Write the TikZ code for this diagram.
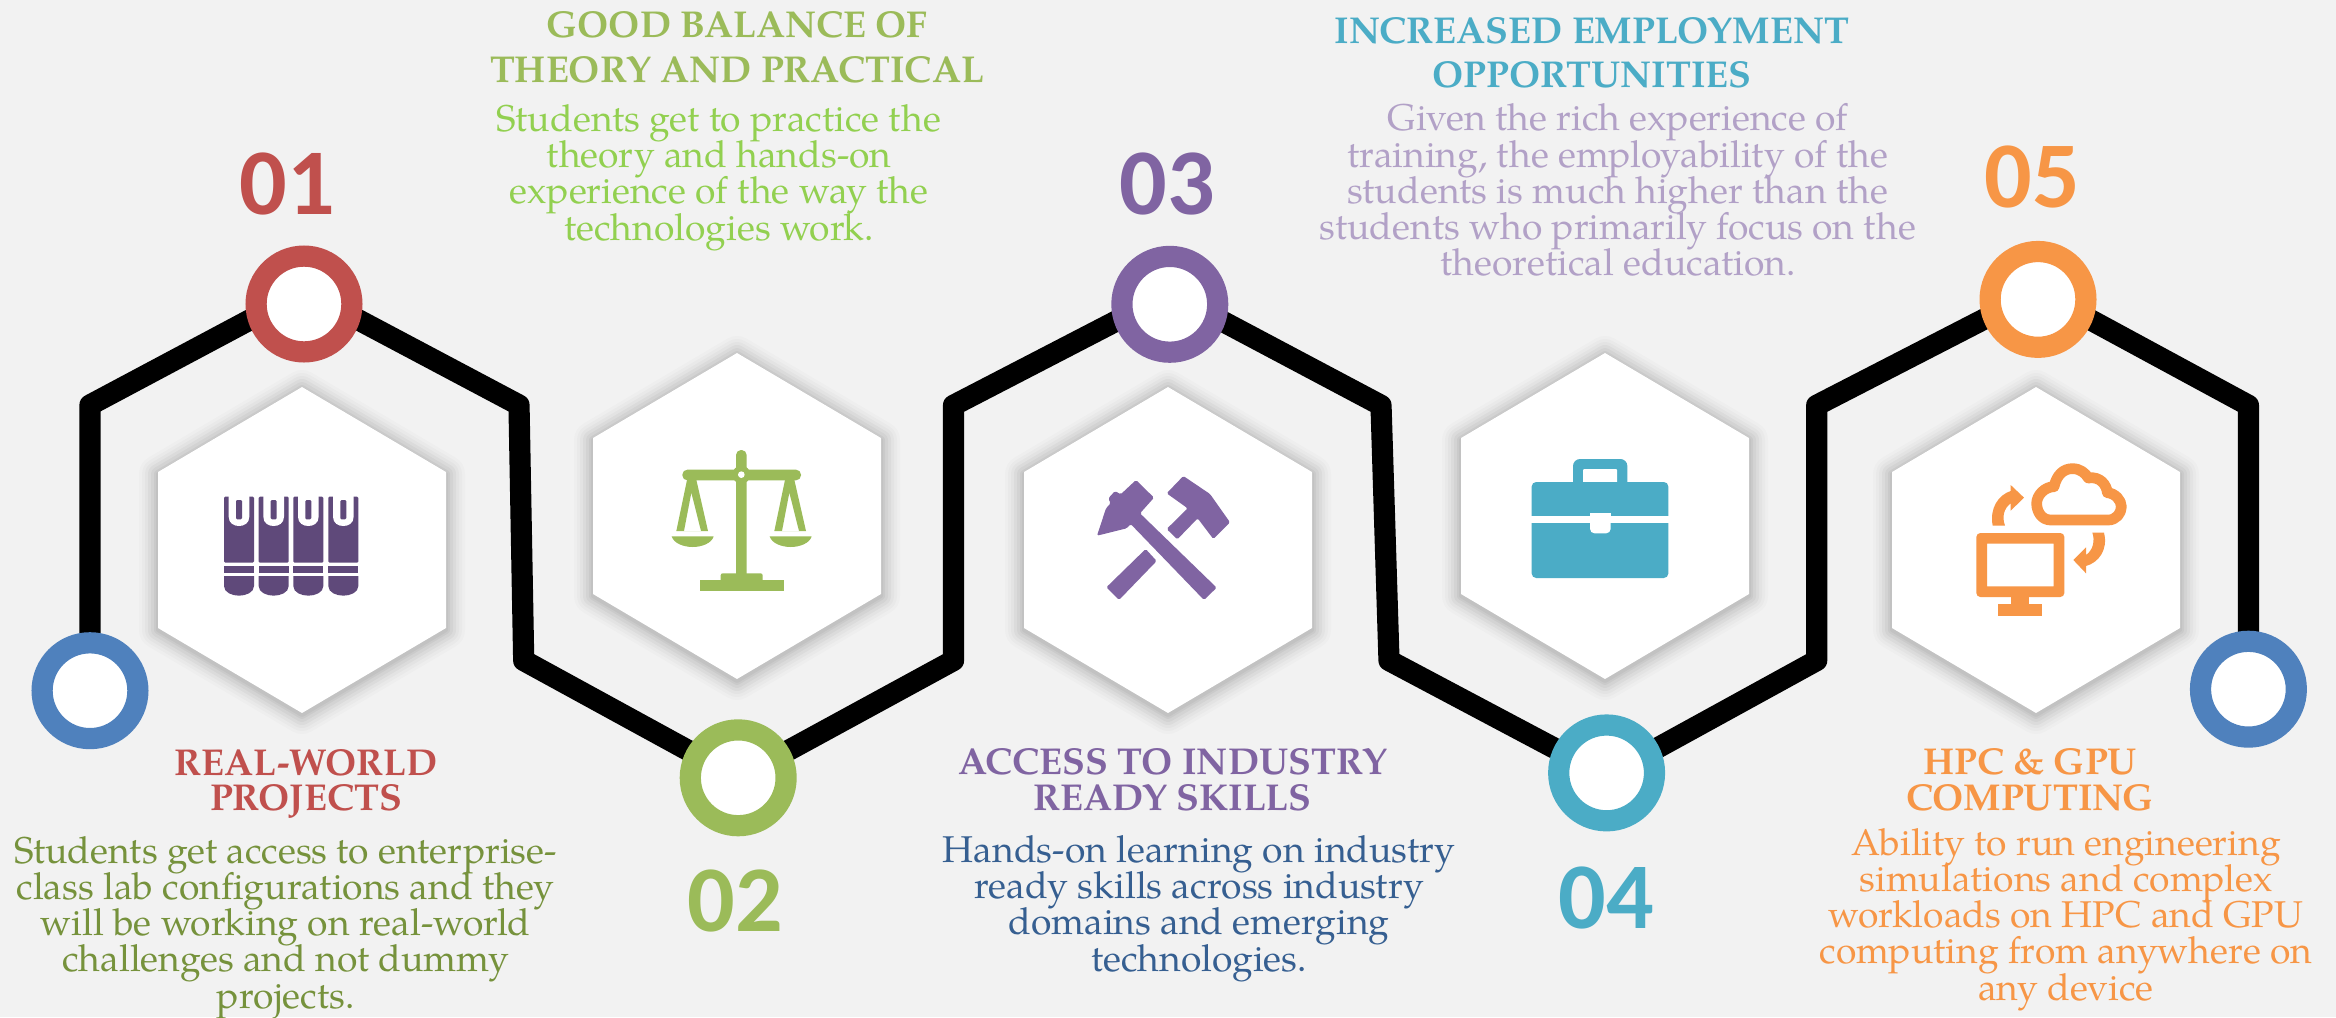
\documentclass[tikz,border=0pt]{standalone}
\usepackage{fontspec}
\setmainfont{TeX Gyre Pagella}
\newfontfamily\numfont{Carlito}
\definecolor{bgc}{HTML}{F2F2F2}
\definecolor{cred}{HTML}{C0504D}
\definecolor{cgreen}{HTML}{9BBB59}
\definecolor{cpurple}{HTML}{8064A2}
\definecolor{cteal}{HTML}{4BACC6}
\definecolor{corange}{HTML}{F79646}
\definecolor{cblue}{HTML}{4F81BD}
\definecolor{cbook}{HTML}{5F497A}
\definecolor{tgreenD}{HTML}{76923C}
\definecolor{tgreenL}{HTML}{92D050}
\definecolor{tblue}{HTML}{365F91}
\definecolor{tlilac}{HTML}{B2A1C7}
\pgfdeclarelayer{back}
\pgfsetlayers{back,main}
\newcommand{\hexshape}[2]{%
  \foreach \wd/\op in {38/.014,32/.018,26/.024,20/.03,14/.036,8/.04,4/.04}{%
    \draw[black,opacity=\op,line width=\wd pt,line join=round,fill=none]
      ({#1},{#2+2}) -- ({#1+144},{#2+87}) -- ({#1+144},{#2+243}) -- ({#1},{#2+328}) -- ({#1-144},{#2+243}) -- ({#1-144},{#2+87}) -- cycle;}%
  \fill[white] ({#1},{#2}) -- ({#1+144},{#2+85}) -- ({#1+144},{#2+241}) -- ({#1},{#2+326}) -- ({#1-144},{#2+241}) -- ({#1-144},{#2+85}) -- cycle;}
\newcommand{\tightlines}{\lineskiplimit=-100pt\lineskip=0pt}
\tikzset{x=1pt,y=-1pt,
 ringnode/.style={circle,draw=#1,fill=white,line width=21.2pt,minimum size=95.8pt,inner sep=0pt,outer sep=0pt},
 connector/.style={black,line width=21.2pt,line join=round},
 bodytext/.style={align=center,anchor=base,font=\fontsize{37.25}{36.2}\selectfont\tightlines},
 headtext/.style={align=center,anchor=base,font=\fontsize{37.4}{35.5}\selectfont\bfseries\tightlines},
 headwide/.style={align=center,anchor=base,font=\fontsize{37.4}{44.5}\selectfont\bfseries\tightlines},
 numtext/.style={anchor=base,font=\fontsize{94}{94}\selectfont\bfseries\numfont}}
\begin{document}
\begin{tikzpicture}
\useasboundingbox (0,0) rectangle (2336,1017);
\begin{pgfonlayer}{back}
\fill[bgc] (0,0) rectangle (2336,1017);
\end{pgfonlayer}
% ring nodes
\node[ringnode=cblue] (ringA) at (90,690.7) {};
\node[ringnode=cred] (ring1) at (304,304) {};
\node[ringnode=cgreen] (ring2) at (738.2,777.8) {};
\node[ringnode=cpurple] (ring3) at (1169.8,304.3) {};
\node[ringnode=cteal] (ring4) at (1606.6,772.9) {};
\node[ringnode=corange] (ring5) at (2038,299.4) {};
\node[ringnode=cblue] (ringB) at (2248.4,689.2) {};
% bends
\coordinate (b1) at (90,405);
\coordinate (b2) at (519,405);
\coordinate (b3) at (523.7,660.5);
\coordinate (b4) at (953.5,660.5);
\coordinate (b5) at (953.5,405.3);
\coordinate (b6) at (1381,405.3);
\coordinate (b7) at (1389,660.5);
\coordinate (b8) at (1816.7,660.5);
\coordinate (b9) at (1816.7,405.3);
\coordinate (b10) at (2248.4,405.3);
\begin{pgfonlayer}{back}
\draw[connector] (ringA.center) -- (b1) -- ([yshift=13pt]ring1.center) -- (b2) -- (b3) -- (ring2.center) -- (b4) -- (b5) -- ([yshift=11pt]ring3.center) -- (b6) -- (b7) -- ([yshift=-3pt]ring4.center) -- (b8) -- (b9) -- ([yshift=8pt]ring5.center) -- (b10) -- (ringB.center);
\end{pgfonlayer}
% hexagons
\hexshape{302}{387}
\hexshape{737}{353}
\hexshape{1168}{387}
\hexshape{1605}{353}
\hexshape{2036}{387}
% books
\begin{scope}[shift={(130,370)},scale=1/3,cbook]
\foreach \bx in {282,386,490,595}{
\begin{scope}[shift={(\bx,0)}]
\fill[rounded corners=1.2pt] (0,578) -- (0,380) -- (90,380) -- (90,578) -- cycle;
\fill[white] (14,372) -- (14,440) .. controls (14,460) and (30,468) .. (45,468) .. controls (60,468) and (76,460) .. (76,440) -- (76,372) -- cycle;
\fill[rounded corners=1.2pt] (36,390) -- (54,390) -- (54,448) -- (36,448) -- cycle;
\fill (0,588) rectangle (90,609);
\fill (0,618) -- (90,618) -- (90,648) .. controls (90,668) and (65,677) .. (45,677) .. controls (25,677) and (0,668) .. (0,648) -- cycle;
\end{scope}}
\end{scope}
% scales
\begin{scope}[shift={(570,340)},scale=1/3,cgreen]
\fill[rounded corners=5pt] (498,330) rectangle (530,720);
\fill[rounded corners=5pt] (337,389) rectangle (693,421);
\fill (514,404) circle [radius=27];
\foreach \sx in {0,294}{
\begin{scope}[shift={(\sx,0)}]
\fill[even odd rule] (352,415) -- (319,573) -- (414,573) -- (378,415) -- cycle (364,458) -- (342,573) -- (393,573) -- cycle;
\fill (305,589) -- (431,589) .. controls (425,610) and (395,621) .. (368,621) .. controls (341,621) and (311,610) .. (305,589) -- cycle;
\end{scope}}
\fill[rounded corners=2pt] (452,725) -- (452,700) -- (578,700) -- (578,725) -- cycle;
\fill (389,720) rectangle (641,752);
\fill[white] (514,404) circle [radius=10];
\end{scope}
% hammers
\begin{scope}[shift={(1000,400)},scale=1/3,cpurple]
\fill[rounded corners=1.5pt] (291,407) -- (318,325) -- (332,310) -- (325,295) -- (345,273) -- (362,283) -- (408,240) -- (462,293) -- (420,340) -- (650,563) -- (612,600) -- (392,372) -- (380,385) -- cycle;
\fill[rounded corners=1.5pt] (550,228) -- (630,282) -- (690,367) -- (640,417) -- (593,355) -- (532,418) -- (500,387) -- (563,325) -- (500,280) -- cycle;
\fill[rounded corners=1.5pt] (437,447) -- (470,483) -- (357,600) -- (319,562) -- cycle;
\end{scope}
% briefcase
\begin{scope}[shift={(1450,400)},scale=1/3,cteal]
\fill[rounded corners=7pt] (369,177) rectangle (532,270);
\fill[white,rounded corners=1pt] (399,207) rectangle (501,260);
\fill[rounded corners=4.5pt] (245,246) rectangle (655,534);
\fill[white] (240,349) rectangle (660,370);
\fill[white] (420,339) rectangle (482,370);
\fill[white,rounded corners=4.5pt] (420,355) rectangle (482,400);
\end{scope}
% monitor, cloud, arrows
\begin{scope}[shift={(1900,420)},scale=1/3,corange]
\fill[even odd rule,rounded corners=4pt] (229,339) rectangle (493,531) [sharp corners] (261,371) rectangle (461,499);
\fill (333,528) rectangle (388,556);
\fill (295,553) rectangle (427,587);
\draw[line width=10.7pt,line join=round] (625,300) -- (452,300) .. controls (425,300) and (410,275) .. (410,250) .. controls (410,225) and (435,200) .. (462,200) .. controls (470,165) and (490,146) .. (517,146) .. controls (540,146) and (555,158) .. (565,174) .. controls (600,168) and (620,195) .. (622,218) .. controls (645,220) and (664,240) .. (664,260) .. controls (664,280) and (648,300) .. (625,300) -- cycle;
\fill (278,317) .. controls (268,265) and (295,225) .. (332,213) -- (332,195) -- (372,233) -- (332,272) -- (332,250) .. controls (312,265) and (305,290) .. (315,317) -- cycle;
\fill (612,338) .. controls (625,390) and (595,428) .. (558,438) -- (558,460) -- (520,420) -- (558,382) -- (558,405) .. controls (580,390) and (585,360) .. (577,338) -- cycle;
\end{scope}
% numbers
\node[numtext,cred] (num1) at (287,214) {01};
\node[numtext,cgreen] (num2) at (735,931) {02};
\node[numtext,cpurple] (num3) at (1167,214) {03};
\node[numtext,cteal] (num4) at (1606,928) {04};
\node[numtext,corange] (num5) at (2032,207) {05};
% texts (anchored at the baseline of the last line)
\node[headtext,cred] (headA) at (306,810.7) {REAL-WORLD\\PROJECTS};
\node[bodytext,tgreenD] (bodyA) at (285.6,1008) {Students get access to enterprise-\\class lab configurations and they\\will be working on real-world\\challenges and not dummy\\projects.};
\node[headwide,cgreen] (headB) at (737,82) {GOOD BALANCE OF\\THEORY AND PRACTICAL};
\node[bodytext,tgreenL] (bodyB) at (719,240) {Students get to practice the\\theory and hands-on\\experience of the way the\\technologies work.};
\node[headtext,cpurple] (headC) at (1172.5,810) {ACCESS TO INDUSTRY\\READY SKILLS};
\node[bodytext,tblue] (bodyC) at (1199,971) {Hands-on learning on industry\\ready skills across industry\\domains and emerging\\technologies.};
\node[headwide,cteal] (headD) at (1592,87.7) {INCREASED EMPLOYMENT\\OPPORTUNITIES};
\node[bodytext,tlilac] (bodyD) at (1618,275.7) {Given the rich experience of\\training, the employability of the\\students is much higher than the\\students who primarily focus on the\\theoretical education.};
\node[headtext,corange] (headE) at (2030,810) {HPC \& GPU\\COMPUTING};
\node[bodytext,corange] (bodyE) at (2066,1000) {Ability to run engineering\\simulations and complex\\workloads on HPC and GPU\\computing from anywhere on\\any device};
\end{tikzpicture}
\end{document}
